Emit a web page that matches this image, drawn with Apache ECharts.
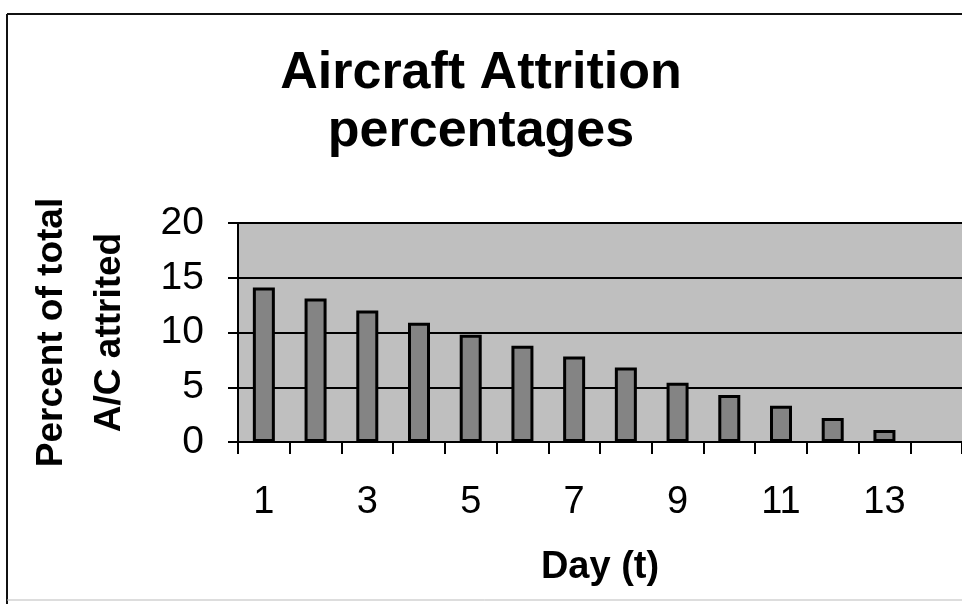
<!DOCTYPE html>
<html>
<head>
<meta charset="utf-8">
<script src="https://cdn.jsdelivr.net/npm/echarts@6/dist/echarts.min.js"></script>
<style>
html, body { margin: 0; padding: 0; background: #fff; }
#main { width: 962px; height: 604px; }
</style>
</head>
<body>
<div id="main"></div>
<script>
// day numbers on the x axis
var days = ['1', '2', '3', '4', '5', '6', '7', '8', '9', '10', '11', '12', '13', '14'];
// percent of total A/C attrited per day
var attrited = [14.1, 13.1, 12.0, 10.9, 9.8, 8.8, 7.8, 6.8, 5.4, 4.3, 3.3, 2.2, 1.1, null];
var yTicks = [0, 5, 10, 15, 20];

var font = '"Liberation Sans", Arial, Helvetica, sans-serif';

var option = {
    backgroundColor: '#fff',
    animation: false,
    title: {
        text: 'Aircraft Attrition\npercentages',
        left: 'center',
        top: 40,
        textStyle: {
            fontFamily: font,
            fontWeight: 'bold',
            fontSize: 52,
            lineHeight: 58,
            color: '#000'
        }
    },
    graphic: [
        { type: 'line', shape: { x1: 7, y1: 14, x2: 962, y2: 14 }, style: { stroke: '#111', lineWidth: 2 } },
        { type: 'line', shape: { x1: 7, y1: 14, x2: 7, y2: 604 }, style: { stroke: '#111', lineWidth: 2 } },
        { type: 'line', shape: { x1: 7, y1: 600, x2: 962, y2: 600 }, style: { stroke: '#bbb', lineWidth: 1 } }
    ],
    grid: {
        left: 238,
        right: 0,
        top: 223,
        bottom: 162,
        show: true,
        backgroundColor: '#bfbfbf',
        borderWidth: 0
    },
    xAxis: {
        type: 'category',
        data: days,
        name: 'Day (t)',
        nameLocation: 'middle',
        nameGap: 107,
        nameTextStyle: { fontFamily: font, fontWeight: 'bold', fontSize: 38, color: '#000' },
        axisLine: { lineStyle: { color: '#000', width: 2 } },
        axisTick: { show: true, interval: 0, length: 12, lineStyle: { color: '#000', width: 2 } },
        axisLabel: { interval: 1, margin: 42, fontFamily: font, fontSize: 38, color: '#000' }
    },
    yAxis: {
        type: 'value',
        min: 0,
        max: 20,
        interval: 5,
        name: 'Percent of total\nA/C attrited',
        nameLocation: 'middle',
        nameGap: 99,
        nameTextStyle: { fontFamily: font, fontWeight: 'bold', fontSize: 37, lineHeight: 58, color: '#000' },
        axisLine: { show: true, lineStyle: { color: '#000', width: 2 } },
        axisTick: { show: true, length: 10, lineStyle: { color: '#000', width: 2 } },
        axisLabel: {
            margin: 34,
            fontFamily: font,
            fontSize: 39,
            color: '#000',
            formatter: function (v) { return yTicks.indexOf(v) >= 0 ? String(v) : ''; }
        },
        splitLine: { show: true, lineStyle: { color: '#000', width: 2 } }
    },
    series: [
        {
            type: 'bar',
            data: attrited,
            barWidth: 22,
            itemStyle: { color: '#848484', borderColor: '#000', borderWidth: 3 }
        }
    ]
};

var myChart = echarts.init(document.getElementById('main'));
myChart.setOption(option);
</script>
</body>
</html>
